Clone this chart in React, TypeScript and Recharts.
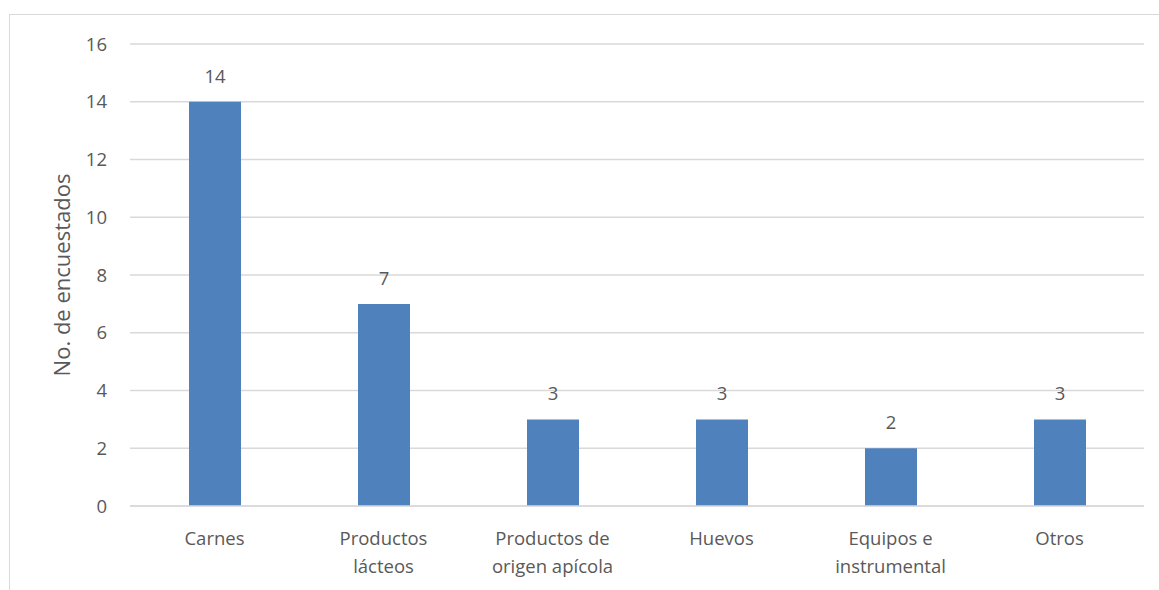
import React from "react";
import {
  BarChart,
  Bar,
  XAxis,
  YAxis,
  CartesianGrid,
  LabelList,
} from "recharts";

const categorias = [
  "Carnes",
  "Productos\nlácteos",
  "Productos de\norigen apícola",
  "Huevos",
  "Equipos e\ninstrumental",
  "Otros",
];
const encuestados = [14, 7, 3, 3, 2, 3];
const yTicks = [0, 2, 4, 6, 8, 10, 12, 14, 16];

const data = categorias.map((c, i) => ({ categoria: c, valor: encuestados[i] }));

const TEXT = "#595959";
const FONT = "'Open Sans', sans-serif";

// two-line category labels, split on "\n"
function CategoryTick({ x, y, payload }: any) {
  const lines = String(payload.value).split("\n");
  return (
    <text x={x} y={y} textAnchor="middle" fill={TEXT} fontSize={18.5} fontFamily={FONT}>
      {lines.map((l, i) => (
        <tspan key={i} x={x} dy={i === 0 ? 31 : 28}>
          {l}
        </tspan>
      ))}
    </text>
  );
}

export default function App() {
  return (
    <div style={{ position: "absolute", left: 0, top: 0, width: 1159, height: 590, overflow: "hidden", background: "#fff" }}>
      <div
        style={{
          position: "absolute",
          left: 9,
          top: 14,
          width: 1200,
          height: 700,
          border: "1px solid #d9d9d9",
        }}
      />
      <BarChart
        width={1159}
        height={590}
        data={data}
        margin={{ top: 44, right: 15, bottom: 54, left: 0 }}
        style={{ position: "absolute", left: 0, top: 0 }}
      >
        <CartesianGrid vertical={false} stroke="#d9d9d9" strokeWidth={1.3} />
        <XAxis
          dataKey="categoria"
          height={30}
          axisLine={{ stroke: "#d9d9d9", strokeWidth: 1.3 }}
          tickLine={false}
          interval={0}
          tick={<CategoryTick />}
        />
        <YAxis
          width={130}
          domain={[0, 16]}
          ticks={yTicks}
          axisLine={false}
          tickLine={false}
          tickSize={0}
          tickMargin={23}
          tick={{ fill: TEXT, fontSize: 18.5, fontFamily: FONT }}
          label={{
            value: "No. de encuestados",
            angle: -90,
            position: "center",
            dx: -3,
            fill: TEXT,
            fontSize: 22,
            fontFamily: FONT,
          }}
        />
        <Bar dataKey="valor" fill="#4f81bd" barSize={52} isAnimationActive={false}>
          <LabelList
            dataKey="valor"
            position="top"
            offset={19}
            fill={TEXT}
            fontSize={18.5}
            fontFamily={FONT}
          />
        </Bar>
      </BarChart>
    </div>
  );
}
